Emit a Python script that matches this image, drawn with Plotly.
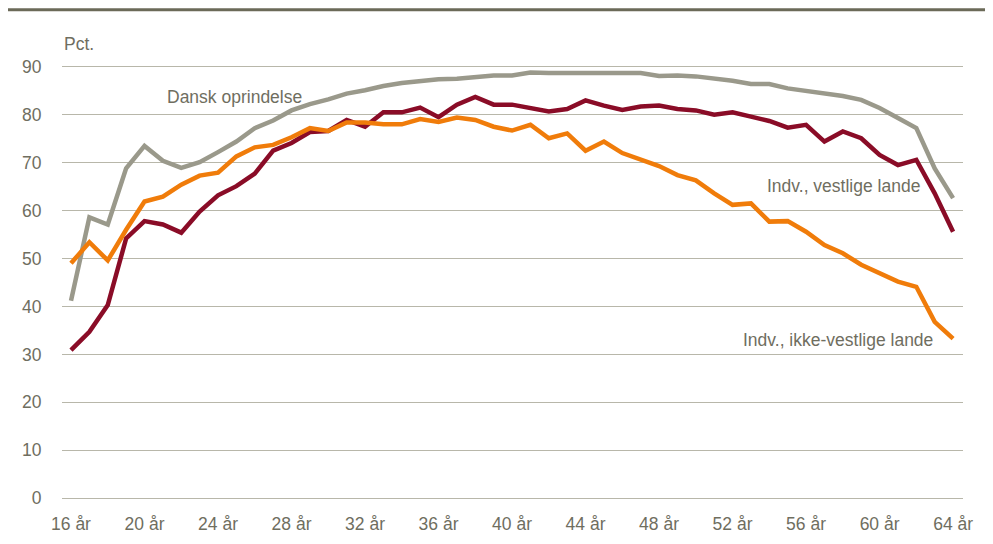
import plotly.graph_objects as go

ages = list(range(16, 65))

dansk = [41.2, 58.6, 57.1, 68.8, 73.5, 70.4, 68.9, 70.1, 72.2, 74.4,
         77.2, 78.8, 80.9, 82.2, 83.2, 84.4, 85.1, 86.0, 86.6, 87.1,
         87.4, 87.5, 87.8, 88.2, 88.2, 88.8, 88.7, 88.7, 88.7, 88.6,
         88.8, 88.7, 88.1, 88.2, 88.0, 87.6, 87.1, 86.4, 86.4, 85.5,
         85.0, 84.5, 83.9, 83.1, 81.4, 79.3, 77.2, 68.8, 62.6]

vestlige = [30.9, 34.7, 40.3, 54.2, 57.8, 57.1, 55.4, 59.8, 63.2, 65.1,
            67.7, 72.5, 74.1, 76.4, 76.6, 78.9, 77.5, 80.5, 80.5, 81.5,
            79.5, 82.1, 83.7, 82.1, 82.1, 81.5, 80.7, 81.2, 83.0, 81.9,
            81.0, 81.7, 81.9, 81.2, 80.9, 80.0, 80.5, 79.6, 78.7, 77.3,
            77.9, 74.4, 76.5, 75.1, 71.6, 69.5, 70.6, 63.6, 55.6]

ikke_vestlige = [49.0, 53.4, 49.6, 56.0, 61.9, 62.9, 65.4, 67.3, 67.9, 71.3,
                 73.2, 73.7, 75.3, 77.2, 76.6, 78.4, 78.4, 78.0, 78.0, 79.1,
                 78.5, 79.4, 78.9, 77.5, 76.7, 77.9, 75.1, 76.1, 72.5, 74.4,
                 72.0, 70.6, 69.3, 67.4, 66.3, 63.6, 61.2, 61.5, 57.7, 57.8,
                 55.6, 52.8, 51.1, 48.7, 46.9, 45.2, 44.1, 36.8, 33.3]

x_tick_vals = list(range(16, 65, 4))
x_tick_text = [f"{a} år" for a in x_tick_vals]
y_tick_vals = list(range(0, 100, 10))

series = [
    ("Dansk oprindelse", dansk, "#9a998b"),
    ("Indv., vestlige lande", vestlige, "#8a0c27"),
    ("Indv., ikke-vestlige lande", ikke_vestlige, "#f07c0a"),
]

FONT = "Liberation Sans, Arial, sans-serif"
TXT = "#6f6e5f"
FS = 17.5

fig = go.Figure()
for name, vals, col in series:
    fig.add_trace(go.Scatter(x=ages, y=vals, mode="lines", name=name,
                             line=dict(color=col, width=4.5), showlegend=False))

fig.update_layout(
    width=993, height=544,
    margin=dict(l=54, r=38, t=54, b=49),
    paper_bgcolor="white", plot_bgcolor="white",
    font=dict(family=FONT, size=FS, color=TXT),
    xaxis=dict(range=[15.51, 64.54], tickvals=x_tick_vals, ticktext=x_tick_text,
               showgrid=False, zeroline=False, showline=False,
               ticks="outside", ticklen=5, tickcolor="rgba(0,0,0,0)",
               tickfont=dict(family=FONT, size=FS, color=TXT)),
    yaxis=dict(range=[-1, 91], tickvals=y_tick_vals, showgrid=True,
               gridcolor="#b8b7aa", gridwidth=1.3, zeroline=False, showline=False,
               ticks="outside", ticklen=16, tickcolor="rgba(0,0,0,0)",
               tickfont=dict(family=FONT, size=FS, color=TXT)),
    annotations=[
        dict(text="Pct.", xref="paper", yref="paper", x=0.0, y=1.04,
             xanchor="left", yanchor="middle", showarrow=False,
             font=dict(family=FONT, size=FS, color=TXT)),
        dict(text="Dansk oprindelse", x=21.1, y=83.7, xanchor="left", yanchor="middle",
             showarrow=False, font=dict(family=FONT, size=FS, color=TXT)),
        dict(text="Indv., vestlige lande", x=62.3, y=65.1, xanchor="right", yanchor="middle",
             showarrow=False, font=dict(family=FONT, size=FS, color=TXT)),
        dict(text="Indv., ikke-vestlige lande", x=63.0, y=33.0, xanchor="right", yanchor="middle",
             showarrow=False, font=dict(family=FONT, size=FS, color=TXT)),
    ],
    shapes=[
        dict(type="line", xref="paper", yref="paper", x0=-0.07, x1=1.05,
             y0=1.1185, y1=1.1185, line=dict(color="#6b6a58", width=3)),
    ],
)

fig.write_html("out.html")
